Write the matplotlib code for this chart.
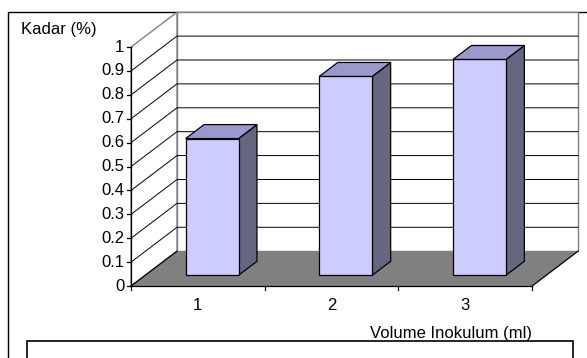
import matplotlib.pyplot as plt
from matplotlib.patches import Polygon, Rectangle

# data
kategori = ['1', '2', '3']
kadar = [0.572, 0.832, 0.903]
y_ticks = [0, 0.1, 0.2, 0.3, 0.4, 0.5, 0.6, 0.7, 0.8, 0.9, 1]
y_labels = ['0', '0.1', '0.2', '0.3', '0.4', '0.5', '0.6', '0.7', '0.8', '0.9', '1']

plt.rcParams['font.family'] = ['Liberation Sans', 'DejaVu Sans']

# oblique 3D projection (Excel-like)
DX, DY = 0.344, 0.146     # full depth offset in data units
d_front, d_back = 0.31, 0.71
bar_w = 0.396


def proj(x, y, d):
    return (x + DX * d, y + DY * d)


fig = plt.figure(figsize=(5.87, 3.58), dpi=100)
ax = fig.add_axes([0, 0, 1, 1])
ax.set_xlim(-0.98, 3.411)
ax.set_ylim(-0.301, 1.197)
ax.axis('off')

n = len(kategori)
wall = '#808080'
fs = 12

# outer frame and legend box
ax.add_patch(Rectangle((-0.92, -1), 6, 2.146, fill=False, ec='black', lw=1.0, zorder=0))
ax.add_patch(Rectangle((-0.78, -1), 4.09, 0.77, fill=False, ec='black', lw=1.2, zorder=0))

# back wall
ax.add_patch(Polygon([proj(0, 0, 1), proj(n, 0, 1), proj(n, 1, 1), proj(0, 1, 1)],
                     closed=True, fc='white', ec=wall, lw=1.0, zorder=1))
# left wall
ax.add_patch(Polygon([(0, 0), proj(0, 0, 1), proj(0, 1, 1), (0, 1)],
                     closed=True, fc='white', ec=wall, lw=1.0, zorder=1))
# gridlines
for v in y_ticks[1:-1]:
    xs, ys = zip((0, v), proj(0, v, 1), proj(n, v, 1))
    ax.plot(xs, ys, color='black', lw=0.7, zorder=2)
# floor
ax.add_patch(Polygon([(0, 0), (n, 0), proj(n, 0, 1), proj(0, 0, 1)],
                     closed=True, fc='#808080', ec='none', zorder=3))
xs, ys = zip((n, 0), proj(n, 0, 1))
ax.plot(xs, ys, color='black', lw=0.9, zorder=3)
xs, ys = zip((0, 0), proj(0, 0, 1))
ax.plot(xs, ys, color='black', lw=0.9, zorder=3)

# bars
for i, v in enumerate(kadar):
    x0 = i + 0.5 - bar_w / 2
    x1 = i + 0.5 + bar_w / 2
    front = [proj(x0, 0, d_front), proj(x1, 0, d_front), proj(x1, v, d_front), proj(x0, v, d_front)]
    side = [proj(x1, 0, d_front), proj(x1, 0, d_back), proj(x1, v, d_back), proj(x1, v, d_front)]
    top = [proj(x0, v, d_front), proj(x1, v, d_front), proj(x1, v, d_back), proj(x0, v, d_back)]
    ax.add_patch(Polygon(side, closed=True, fc='#666680', ec='black', lw=0.9, zorder=4))
    ax.add_patch(Polygon(front, closed=True, fc='#CCCCFF', ec='black', lw=0.9, zorder=4))
    ax.add_patch(Polygon(top, closed=True, fc='#9999CC', ec='black', lw=0.9, zorder=4))

# axes lines
ax.plot([0, 0], [0, 1], color='black', lw=0.9, zorder=5)
ax.plot([0, n], [0, 0], color='black', lw=0.9, zorder=5)
for v, lab in zip(y_ticks, y_labels):
    ax.plot([-0.03, 0], [v, v], color='black', lw=0.9, zorder=5)
    ax.text(-0.05, v, lab, ha='right', va='center', fontsize=fs)
for k in range(n + 1):
    ax.plot([k, k], [0, -0.015], color='black', lw=0.9, zorder=5)
for i, lab in enumerate(kategori):
    ax.text(i + 0.5, -0.08, lab, ha='center', va='center', fontsize=fs)

ax.text(-0.82, 1.075, 'Kadar (%)', ha='left', va='center', fontsize=fs)
ax.text(3.0, -0.198, 'Volume Inokulum (ml)', ha='right', va='center', fontsize=fs)

fig.savefig('out.png', dpi=100)
